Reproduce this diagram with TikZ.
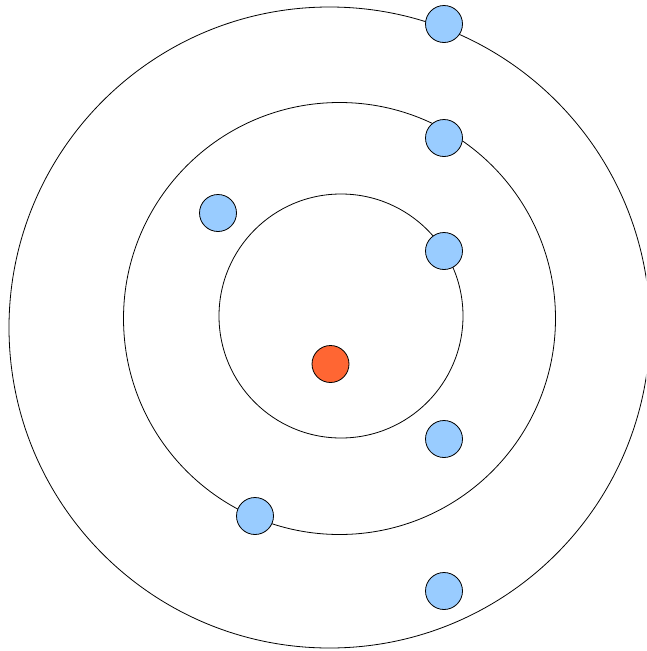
\documentclass[tikz,border=0pt]{standalone}
\usepackage{tikz}
\definecolor{ShellBlue}{HTML}{99CCFF}
\definecolor{CoreRed}{HTML}{FF6633}

\begin{document}
\begin{tikzpicture}[x=1pt,y=-1pt]
  \tikzstyle{orbit}=[draw=black,line width=0.8pt]
  \tikzstyle{electron}=[circle,draw=black,fill=ShellBlue,line width=0.8pt,
    minimum size=37pt,inner sep=0pt]
  \tikzstyle{nucleus}=[circle,draw=black,fill=CoreRed,line width=0.8pt,
    minimum size=37pt,inner sep=0pt]
  \useasboundingbox (0,0) rectangle (646,651);
  \begin{scope}
    \clip (0,0) rectangle (646,651);
    \draw[orbit] (329.5,327.5) circle (320.5);
  \end{scope}
  \draw[orbit] (339.5,318.5) circle (216);
  \draw[orbit] (341,316) circle (122);
  \node[nucleus] (core) at (330.5,364) {};
  \node[electron] (e1) at (444,24) {};
  \node[electron] (e2) at (444,138) {};
  \node[electron] (e3) at (218,213) {};
  \node[electron] (e4) at (444,251) {};
  \node[electron] (e5) at (444,439) {};
  \node[electron] (e6) at (255,516) {};
  \node[electron] (e7) at (444,591) {};
\end{tikzpicture}
\end{document}
